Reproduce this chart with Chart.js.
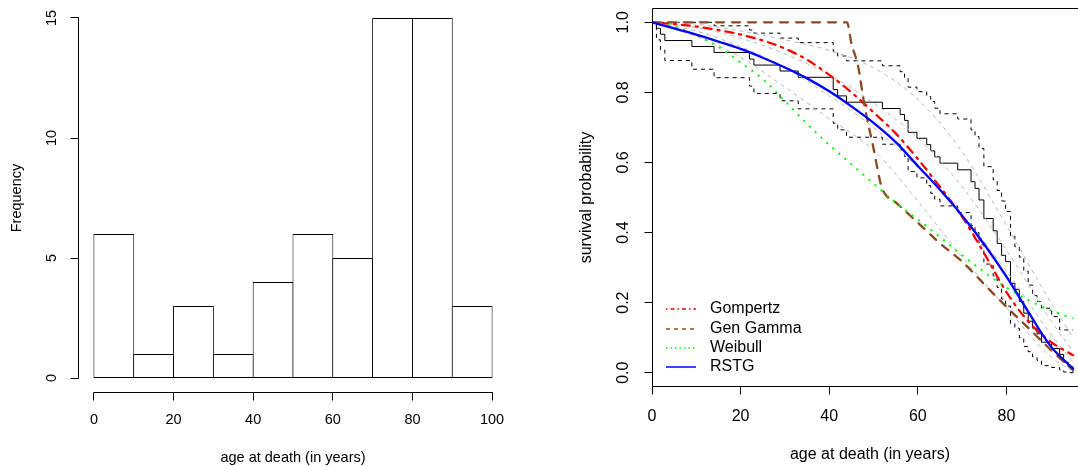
<!DOCTYPE html>
<html>
<head>
<meta charset="utf-8">
<title>Age at death</title>
<script src="https://cdn.jsdelivr.net/npm/chart.js@4.4.1/dist/chart.umd.min.js"></script>
<style>
  html, body { margin: 0; padding: 0; background: #fff; width: 1078px; height: 466px; overflow: hidden; position: relative; }
  #hist { position: absolute; left: 0; top: 0; }
  #surv { position: absolute; left: 539px; top: 0; }
</style>
</head>
<body>
<canvas id="hist" width="539" height="466"></canvas>
<canvas id="surv" width="556" height="466"></canvas>
<script>
/* Histogram of ages at death + survival curves (KM with bands, fitted models) */

// histogram: 10-year bins
const BIN_MIDS   = [5, 15, 25, 35, 45, 55, 65, 75, 85, 95];
const BIN_COUNTS = [6, 1, 3, 1, 4, 6, 5, 15, 15, 3];
const HIST_X_TICKS = [0, 20, 40, 60, 80, 100];
const HIST_Y_TICKS = [0, 5, 10, 15];

// Kaplan-Meier estimate and its confidence band (value after each step)
const KM_TIME  = [0, 1.0, 1.9, 2.9, 9.0, 14.0, 22.0, 23.0, 28.9, 33.0,
                  40.9, 41.9, 43.9, 52.0, 56.0, 57.0, 57.8, 59.8, 62.0, 62.9,
                  63.8, 65.0, 69.0, 72.0, 72.9, 73.8, 74.9, 77.0, 77.9, 78.9,
                  79.8, 80.9, 81.9, 82.9, 83.9, 84.9, 85.9, 86.9, 87.9, 90.2,
                  92.0, 92.9, 93.9, 95.0];
const KM_SURV  = [1, .983, .966, .948, .931, .914, .895, .878, .861, .843,
                  .808, .790, .772, .754, .737, .720, .686, .669, .651, .633,
                  .616, .598, .579, .545, .526, .493, .440, .405, .369, .335,
                  .317, .255, .238, .203, .170, .147, .127, .111, .087, .069,
                  .052, .030, .017, 0];
const KM_UPPER = [1, 1, 1, 1, 1, .990, .978, .969, .955, .942,
                  .916, .904, .890, .876, .859, .843, .815, .802, .788, .774,
                  .755, .739, .724, .693, .674, .640, .588, .550, .520, .490,
                  .460, .390, .360, .330, .290, .250, .220, .203, .184, .160,
                  .122, .122, .122, .122];
const KM_LOWER = [1, .950, .921, .891, .866, .842, .818, .797, .776, .753,
                  .712, .693, .672, .652, .636, .617, .574, .556, .534, .512,
                  .495, .476, .457, .420, .400, .365, .310, .276, .243, .210,
                  .190, .140, .127, .100, .075, .060, .045, .035, .020, .015,
                  .008, .002, 0, 0];

// pointwise bands of the fitted curves (light grey)
const BAND_TIME = [0, 10, 20, 30, 40, 50, 60, 70, 80, 90, 95];
const BAND_A = [1, .995, .975, .950, .920, .870, .780, .630, .420, .200, .100];
const BAND_B = [1, .985, .955, .910, .850, .770, .670, .530, .350, .150, .060];
const BAND_C = [1, .975, .930, .870, .790, .700, .585, .450, .290, .110, .030];
const BAND_D = [1, .960, .900, .815, .725, .635, .490, .330, .185, .045, .005];

// fitted survival functions
const FIT_TIME = [0, 5, 10, 15, 20, 25, 30, 35, 40, 45, 50, 55, 60, 65, 70, 75, 80, 85, 90, 95];
const RSTG     = [1, .983, .965, .945, .924, .899, .871, .840, .803, .760, .713, .658, .590, .522, .448, .366, .274, .172, .075, .012];
const GOMPERTZ = [1, .995, .988, .978, .965, .948, .925, .893, .850, .800, .743, .683, .610, .530, .445, .340, .230, .145, .088, .050];
const WEIBULL  = [1, .988, .963, .930, .885, .838, .775, .710, .650, .595, .540, .485, .437, .387, .335, .287, .243, .207, .178, .155];
const GG_TIME  = [0, 44, 45, 46.5, 48, 50, 51.6, 52.5, 55, 60, 65, 70, 75, 80, 85, 90, 95];
const GENGAMMA = [1, 1, .94, .875, .76, .64, .54, .512, .486, .428, .369, .317, .252, .188, .127, .065, .008];

const SURV_X_TICKS = [0, 20, 40, 60, 80];
const SURV_Y_TICKS = [0, 0.2, 0.4, 0.6, 0.8, 1.0];

const LEGEND_LABELS = ['Gompertz', 'Gen Gamma', 'Weibull', 'RSTG'];
const LEGEND_COLORS = ['#ff0000', '#8b4a20', '#00ff00', '#0000ff'];
const LEGEND_DASHES = [[1.5, 3, 4, 3], [4, 4], [1.5, 3], []];

const FONT = '"Liberation Sans", Arial, Helvetica, sans-serif';

const pts = (xs, ys) => xs.map((x, i) => ({ x, y: ys[i] }));
const fixTicks = list => scale => { scale.ticks = list.map(v => ({ value: v })); };

// base-graphics style axes: detached or boxed, rotated y labels
const rAxes = {
  id: 'rAxes',
  afterDraw(chart, args, o) {
    const { ctx, chartArea: a } = chart;
    const xs = chart.scales.x, ys = chart.scales.y;
    const px = v => Math.floor(xs.getPixelForValue(v)) + 0.5;
    const py = v => Math.floor(ys.getPixelForValue(v)) + 0.5;
    const xt = xs.ticks.map(t => t.value);
    const yt = ys.ticks.map(t => t.value);
    const xl = Math.floor(a.left) + 0.5;
    const yb = Math.floor(a.bottom) + 0.5;

    ctx.save();
    ctx.strokeStyle = '#000';
    ctx.fillStyle = '#000';
    ctx.lineWidth = 1;
    ctx.beginPath();
    if (o.box) {
      const xr = Math.floor(a.right) + 0.5, yt0 = Math.floor(a.top) + 0.5;
      ctx.rect(xl, yt0, xr - xl, yb - yt0);
    } else {
      ctx.moveTo(px(xt[0]), yb);
      ctx.lineTo(px(xt[xt.length - 1]), yb);
      ctx.moveTo(xl, py(yt[0]));
      ctx.lineTo(xl, py(yt[yt.length - 1]));
    }
    xt.forEach(v => { ctx.moveTo(px(v), yb); ctx.lineTo(px(v), yb + o.tickLen); });
    yt.forEach(v => { ctx.moveTo(xl, py(v)); ctx.lineTo(xl - o.tickLen, py(v)); });
    ctx.stroke();

    ctx.font = o.size + 'px ' + FONT;
    ctx.textAlign = 'center';
    ctx.textBaseline = 'middle';
    xt.forEach(v => ctx.fillText(v.toFixed(o.xDigits), xs.getPixelForValue(v), a.bottom + o.xLabelOff));
    yt.forEach(v => {
      ctx.save();
      ctx.translate(a.left - o.yLabelOff, ys.getPixelForValue(v));
      ctx.rotate(-Math.PI / 2);
      ctx.fillText(v.toFixed(o.yDigits), 0, 0);
      ctx.restore();
    });
    ctx.fillText(o.xTitle, (a.left + a.right) / 2, a.bottom + o.xTitleOff);
    ctx.save();
    ctx.translate(a.left - o.yTitleOff, (a.top + a.bottom) / 2);
    ctx.rotate(-Math.PI / 2);
    ctx.fillText(o.yTitle, 0, 0);
    ctx.restore();
    ctx.restore();
  }
};

// legend in the lower left corner, thin line samples
const rLegend = {
  id: 'rLegend',
  afterDraw(chart, args, o) {
    if (!o.show) return;
    const { ctx, chartArea: a } = chart;
    const n = LEGEND_LABELS.length;
    ctx.save();
    ctx.font = o.size + 'px ' + FONT;
    ctx.textAlign = 'left';
    ctx.textBaseline = 'middle';
    LEGEND_LABELS.forEach((label, i) => {
      const y = Math.round(a.bottom - o.bottomOff - (n - 1 - i) * o.rowGap);
      ctx.beginPath();
      ctx.strokeStyle = LEGEND_COLORS[i];
      ctx.lineWidth = 1.5;
      ctx.setLineDash(LEGEND_DASHES[i]);
      ctx.moveTo(a.left + o.lineStart, y);
      ctx.lineTo(a.left + o.lineEnd, y);
      ctx.stroke();
      ctx.setLineDash([]);
      ctx.fillStyle = '#000';
      ctx.fillText(label, a.left + o.textOff, y);
    });
    ctx.restore();
  }
};

Chart.register(rAxes, rLegend);

new Chart(document.getElementById('hist'), {
  type: 'bar',
  data: {
    datasets: [{
      label: 'Frequency',
      data: pts(BIN_MIDS, BIN_COUNTS),
      backgroundColor: '#fff',
      borderColor: '#000',
      borderWidth: 1,
      borderSkipped: false,
      barPercentage: 1.025,
      categoryPercentage: 1,
    }],
  },
  options: {
    responsive: false,
    animation: false,
    devicePixelRatio: 1,
    events: [],
    layout: { padding: { left: 78, right: 31, top: 3.6, bottom: 73.6 } },
    scales: {
      x: { type: 'linear', offset: false, min: -4, max: 104, display: false, afterBuildTicks: fixTicks(HIST_X_TICKS) },
      y: { type: 'linear', min: -0.6, max: 15.6, display: false, afterBuildTicks: fixTicks(HIST_Y_TICKS) },
    },
    plugins: {
      legend: { display: false },
      tooltip: { enabled: false },
      rLegend: { show: false },
      rAxes: {
        box: false, tickLen: 8, size: 14.5, xDigits: 0, yDigits: 0,
        xLabelOff: 27.6, xTitleOff: 65.3, yLabelOff: 26, yTitleOff: 61,
        xTitle: 'age at death (in years)', yTitle: 'Frequency',
      },
    },
  },
});

const stepLine = (label, ys, dash, order) => ({
  label, data: pts(KM_TIME, ys), stepped: true,
  borderColor: '#000', borderWidth: 1, borderDash: dash, order,
});
const bandLine = (label, ys) => ({
  label, data: pts(BAND_TIME, ys), cubicInterpolationMode: 'monotone',
  borderColor: '#b8b8b8', borderWidth: 1, borderDash: [4, 4], order: 4,
});

new Chart(document.getElementById('surv'), {
  type: 'scatter',
  data: {
    datasets: [
      stepLine('KM', KM_SURV, [], 6),
      stepLine('KM upper', KM_UPPER, [4, 4], 5),
      stepLine('KM lower', KM_LOWER, [4, 4], 5),
      bandLine('band A', BAND_A),
      bandLine('band B', BAND_B),
      bandLine('band C', BAND_C),
      bandLine('band D', BAND_D),
      {
        label: 'Gompertz', data: pts(FIT_TIME, GOMPERTZ), cubicInterpolationMode: 'monotone',
        borderColor: LEGEND_COLORS[0], borderWidth: 2.3, borderDash: [2, 6, 8, 6], borderCapStyle: 'round', order: 3,
      },
      {
        label: 'Gen Gamma', data: pts(GG_TIME, GENGAMMA), cubicInterpolationMode: 'monotone',
        borderColor: LEGEND_COLORS[1], borderWidth: 2.3, borderDash: [8, 8], borderCapStyle: 'round', order: 2,
      },
      {
        label: 'Weibull', data: pts(FIT_TIME, WEIBULL), cubicInterpolationMode: 'monotone',
        borderColor: LEGEND_COLORS[2], borderWidth: 2, borderDash: [2, 6], order: 1,
      },
      {
        label: 'RSTG', data: pts(FIT_TIME, RSTG), cubicInterpolationMode: 'monotone',
        borderColor: LEGEND_COLORS[3], borderWidth: 2.3, borderCapStyle: 'round', order: 0,
      },
    ],
  },
  options: {
    responsive: false,
    animation: false,
    devicePixelRatio: 1,
    events: [],
    showLine: true,
    elements: { point: { radius: 0 } },
    layout: { padding: { left: 113, right: 7, top: 8.3, bottom: 79.3 } },
    scales: {
      x: { type: 'linear', min: 0, max: 98.4, display: false, afterBuildTicks: fixTicks(SURV_X_TICKS) },
      y: { type: 'linear', min: -0.04, max: 1.04, display: false, afterBuildTicks: fixTicks(SURV_Y_TICKS) },
    },
    plugins: {
      legend: { display: false },
      tooltip: { enabled: false },
      rLegend: { show: true, size: 16, lineStart: 14, lineEnd: 44, textOff: 58, bottomOff: 19.4, rowGap: 19.33 },
      rAxes: {
        box: true, tickLen: 8, size: 16, xDigits: 0, yDigits: 1,
        xLabelOff: 30, xTitleOff: 68.3, yLabelOff: 28.7, yTitleOff: 65.3,
        xTitle: 'age at death (in years)', yTitle: 'survival probability',
      },
    },
  },
});
</script>
</body>
</html>
